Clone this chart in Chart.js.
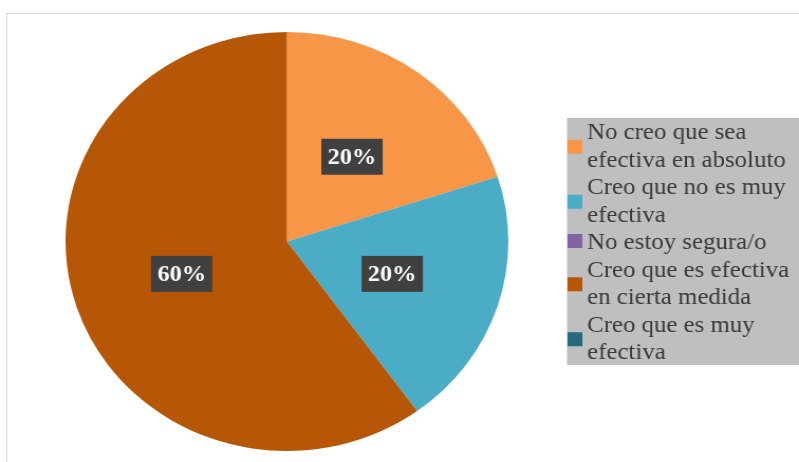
<!DOCTYPE html>
<html>
<head>
<meta charset="utf-8">
<script src="https://cdn.jsdelivr.net/npm/chart.js@4/dist/chart.umd.min.js"></script>
<style>
  html, body { margin: 0; padding: 0; background: #fff; overflow: hidden; }
  #c { display: block; width: 799px; height: 462px; }
</style>
</head>
<body>
<canvas id="c" width="756" height="462" style="width:799px;height:462px"></canvas>
<script>
// Survey answers (each label split into its legend lines)
const categories = [
  ['No creo que sea', 'efectiva en absoluto'],
  ['Creo que no es muy', 'efectiva'],
  ['No estoy segura/o'],
  ['Creo que es efectiva', 'en cierta medida'],
  ['Creo que es muy', 'efectiva']
];
// Share of answers, percent
const shares = [20, 20, 0, 60, 0];
const sliceColors = ['#F79646', '#4BACC6', '#8064A2', '#B65708', '#276A7E'];

const SERIF = '"Liberation Serif", "Times New Roman", serif';

// Outer frame and white background
const framePlugin = {
  id: 'frame',
  beforeDraw(chart) {
    const ctx = chart.ctx;
    ctx.save();
    ctx.fillStyle = '#ffffff';
    ctx.fillRect(0, 0, chart.width, chart.height);
    ctx.strokeStyle = '#D9D9D9';
    ctx.lineWidth = 1;
    ctx.strokeRect(6.5, 13.5, chart.width + 10, chart.height + 10);
    ctx.restore();
  }
};

// Percentage tags on the slices
const valueTagPlugin = {
  id: 'valueTags',
  afterDatasetsDraw(chart) {
    const ctx = chart.ctx;
    const meta = chart.getDatasetMeta(0);
    const data = chart.data.datasets[0].data;
    ctx.save();
    ctx.font = 'bold 23px ' + SERIF;
    ctx.textAlign = 'center';
    ctx.textBaseline = 'middle';
    meta.data.forEach((arc, i) => {
      if (!data[i]) return;
      const p = arc.getCenterPoint();
      const w = 58, h = 36;
      ctx.fillStyle = '#404040';
      ctx.fillRect(p.x - w / 2, p.y - h / 2, w, h);
      ctx.fillStyle = '#ffffff';
      ctx.fillText(data[i] + '%', p.x, p.y + 1);
    });
    ctx.restore();
  }
};

// Legend panel on the right
const legendPanelPlugin = {
  id: 'legendPanel',
  afterDraw(chart) {
    const ctx = chart.ctx;
    const colors = chart.data.datasets[0].backgroundColor;
    const boxX = 536.5, boxY = 118, boxW = 240, boxH = 247;
    const textX = 555.5, firstLine = 133, lineH = 27.5;
    ctx.save();
    ctx.fillStyle = '#BFBFBF';
    ctx.fillRect(boxX, boxY, boxW, boxH);
    ctx.font = '23.5px ' + SERIF;
    ctx.textAlign = 'left';
    ctx.textBaseline = 'middle';
    let line = 0;
    categories.forEach((lines, i) => {
      const yTop = firstLine + line * lineH;
      const yBot = firstLine + (line + lines.length - 1) * lineH;
      const mid = (yTop + yBot) / 2 + (lines.length === 1 ? -2 : 0);
      ctx.fillStyle = colors[i];
      ctx.fillRect(boxX + 0.5, mid - 7, 14, 14);
      ctx.fillStyle = '#3A3A3A';
      lines.forEach((t, k) => {
        ctx.fillText(t, textX, firstLine + (line + k) * lineH);
      });
      line += lines.length;
    });
    ctx.restore();
  }
};

new Chart(document.getElementById('c'), {
  type: 'pie',
  data: {
    labels: categories,
    datasets: [{
      data: shares,
      backgroundColor: sliceColors,
      borderWidth: 0,
      hoverOffset: 0
    }]
  },
  options: {
    responsive: false,
    animation: false,
    layout: { padding: { left: 62, right: 275, top: 32, bottom: 11 } },
    plugins: {
      legend: { display: false },
      tooltip: { enabled: false },
      title: { display: false }
    }
  },
  plugins: [framePlugin, valueTagPlugin, legendPanelPlugin]
});
</script>
</body>
</html>
